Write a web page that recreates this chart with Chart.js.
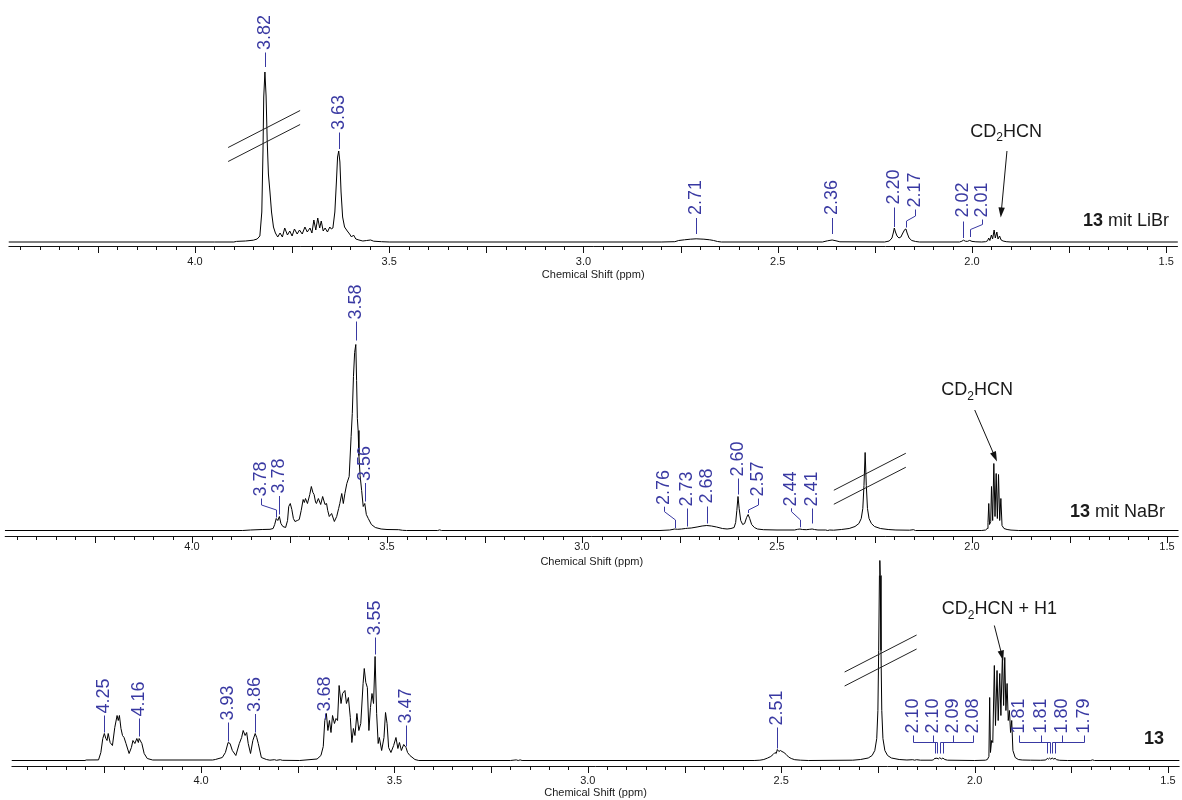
<!DOCTYPE html>
<html>
<head>
<meta charset="utf-8">
<title>1H NMR – 13 mit LiBr / NaBr</title>
<script src="https://cdn.jsdelivr.net/npm/chart.js@4.4.1/dist/chart.umd.min.js"></script>
<style>
  html, body { margin: 0; padding: 0; background: #ffffff; }
  #stack { position: relative; width: 1182px; height: 800px; overflow: hidden; background: #ffffff; }
  #stack canvas { position: absolute; left: 0; top: 0; width: 1182px; height: 800px; }
</style>
</head>
<body>
<div id="stack">
  <canvas id="panelLiBr" width="1182" height="800"></canvas>
  <canvas id="panelNaBr" width="1182" height="800"></canvas>
  <canvas id="panelFree" width="1182" height="800"></canvas>
</div>
<script>
// ---------------------------------------------------------------------------
// Spectra: [chemical shift (ppm), intensity (a.u.)], ordered high to low ppm
// ---------------------------------------------------------------------------
const librSpectrum = [
  [4.48,0],[3.95,0],[3.90,0],[3.893,0.6],[3.87,1],[3.85,1.8],[3.840,3],[3.833,6],[3.828,30],[3.825,90],
  [3.823,145],[3.820,170],[3.817,146],[3.814,100],[3.811,68],[3.807,50],[3.803,30],[3.798,15],[3.793,9],[3.787,5],
  [3.781,9],[3.775,5],[3.769,14],[3.762,7],[3.756,11],[3.750,6],[3.744,13],[3.737,8],[3.731,12],[3.724,8],
  [3.717,15],[3.711,10],[3.704,14],[3.699,9],[3.694,22],[3.689,12],[3.684,24],[3.679,14],[3.675,21],[3.670,11],
  [3.665,14],[3.659,10],[3.653,15],[3.649,13],[3.645,14],[3.640,30],[3.636,60],[3.633,85],[3.630,91],[3.627,80],
  [3.624,50],[3.620,25],[3.615,15],[3.608,11],[3.602,8],[3.597,5],[3.592,7],[3.586,3],[3.578,2],[3.568,1],
  [3.558,1.5],[3.548,2],[3.540,0.8],[3.52,0.3],[3.50,0],[2.80,0],[2.765,0.3],[2.755,1.5],[2.74,2.2],[2.725,2.8],
  [2.71,3.2],[2.70,3],[2.69,2.8],[2.675,2.2],[2.665,1.5],[2.655,0.5],[2.645,0],[2.385,0],[2.372,1.2],[2.36,2],
  [2.35,1.2],[2.34,0.2],[2.225,0],[2.213,1],[2.206,4],[2.202,10],[2.20,14],[2.197,10],[2.193,6],[2.188,4],
  [2.183,5],[2.178,9],[2.173,12.5],[2.17,13],[2.167,9],[2.162,4],[2.155,1.5],[2.145,0.5],[2.135,0],[2.032,0],
  [2.026,0.8],[2.022,1.8],[2.017,0.8],[2.012,0.6],[2.006,1.6],[2.000,0.6],[1.990,0.2],[1.975,0],[1.965,0.3],[1.960,1.2],
  [1.957,4],[1.954,1.5],[1.950,7],[1.947,3],[1.943,12],[1.940,4],[1.936,10],[1.933,3],[1.929,6],[1.925,2],
  [1.920,1],[1.912,0.3],[1.90,0],[1.47,0]
];

const nabrSpectrum = [
  [4.48,0],[3.87,0],[3.85,0.5],[3.82,1],[3.800,1.2],[3.792,2],[3.788,6],[3.784,12],[3.780,10],[3.776,14],
  [3.772,7],[3.767,4],[3.760,3],[3.755,10],[3.752,24],[3.748,27],[3.744,21],[3.740,12],[3.736,9],[3.730,10],
  [3.725,11],[3.720,20],[3.715,31],[3.712,28],[3.709,32],[3.704,27],[3.698,36],[3.694,44],[3.690,38],[3.687,36],
  [3.683,28],[3.681,27],[3.676,32],[3.670,26],[3.665,34],[3.659,26],[3.655,27],[3.652,20],[3.648,14],[3.642,17],
  [3.635,9],[3.629,14],[3.624,22],[3.621,27],[3.616,37],[3.612,27],[3.608,37],[3.603,47],[3.597,54],[3.592,94],
  [3.589,117],[3.586,154],[3.583,178],[3.580,186],[3.578,150],[3.576,112],[3.574,100],[3.572,75],[3.569,55],[3.565,40],
  [3.561,24],[3.557,27],[3.553,16],[3.548,12],[3.540,6],[3.530,3],[3.515,1.5],[3.50,1],[3.47,0.8],[3.46,0.2],
  [3.45,0],[3.37,0],[3.365,0.6],[3.36,0],[2.80,0],[2.775,0.5],[2.762,1.5],[2.755,1.2],[2.745,1.5],[2.735,2],
  [2.73,2.2],[2.72,2.5],[2.705,3.5],[2.692,4.5],[2.68,5],[2.668,4.5],[2.655,3.5],[2.64,2],[2.628,1.5],[2.618,2],
  [2.61,3],[2.606,8],[2.603,20],[2.60,34],[2.597,22],[2.593,10],[2.588,6],[2.583,7],[2.578,13],[2.574,16],
  [2.57,12],[2.565,6],[2.558,3],[2.55,1.5],[2.535,0.8],[2.50,0.5],[2.455,0.5],[2.447,1.2],[2.441,1.5],[2.435,1],
  [2.425,0.8],[2.416,1.2],[2.41,1.5],[2.404,1],[2.395,0.5],[2.375,0.5],[2.37,0],[2.365,0.5],[2.355,0.3],[2.335,1],
  [2.315,2],[2.30,4],[2.29,7],[2.284,12],[2.28,22],[2.277,45],[2.274,78],[2.271,45],[2.268,22],[2.264,12],
  [2.258,7],[2.25,4],[2.235,2],[2.215,1],[2.195,0.5],[2.16,0.3],[2.15,0.8],[2.145,0],[2.10,0],[1.975,0],
  [1.965,0.5],[1.961,2],[1.959,8],[1.957,27],[1.955,6],[1.952,9],[1.95,44],[1.947,10],[1.944,67],[1.941,14],
  [1.938,57],[1.935,12],[1.932,56],[1.929,10],[1.926,32],[1.923,5],[1.918,2],[1.91,1],[1.90,0.4],[1.88,0],
  [1.47,0]
];

const freeSpectrum = [
  [4.49,0],[4.30,0],[4.297,0.5],[4.265,0.6],[4.259,8],[4.254,22],[4.25,27],[4.246,22],[4.243,20],[4.24,27],
  [4.235,18],[4.229,15],[4.223,33],[4.217,45],[4.214,40],[4.211,45],[4.207,32],[4.203,25],[4.199,23],[4.194,17],
  [4.186,7],[4.18,13],[4.176,20],[4.171,17],[4.166,22],[4.162,18],[4.16,22],[4.153,17],[4.147,7],[4.139,2],
  [4.125,0.5],[3.97,0.5],[3.963,1],[3.945,3],[3.937,8],[3.93,18],[3.925,17],[3.919,10],[3.91,5],[3.901,17],
  [3.895,23],[3.891,30],[3.886,25],[3.882,28],[3.878,17],[3.872,7],[3.866,20],[3.86,27],[3.856,23],[3.852,17],
  [3.844,3],[3.831,1],[3.822,0.3],[3.81,0.8],[3.805,0.2],[3.795,0.8],[3.79,0.2],[3.745,0],[3.70,1.5],[3.69,5],
  [3.684,14],[3.68,40],[3.676,47],[3.672,30],[3.668,40],[3.664,28],[3.66,45],[3.655,37],[3.651,42],[3.647,40],
  [3.643,75],[3.638,57],[3.634,67],[3.628,70],[3.624,57],[3.619,63],[3.614,43],[3.61,18],[3.606,32],[3.602,25],
  [3.597,47],[3.592,30],[3.587,37],[3.581,77],[3.578,92],[3.574,78],[3.57,73],[3.566,30],[3.562,53],[3.558,67],
  [3.554,57],[3.55,104],[3.546,47],[3.542,17],[3.539,23],[3.533,10],[3.527,23],[3.523,48],[3.519,37],[3.515,13],
  [3.509,8],[3.502,15],[3.496,23],[3.491,12],[3.487,18],[3.482,10],[3.476,16],[3.47,13],[3.466,8],[3.46,5],
  [3.447,1],[3.437,0],[3.20,0],[3.185,0.6],[3.18,0],[3.175,0.6],[3.17,0],[2.57,0],[2.555,0.3],[2.545,1],
  [2.535,2.5],[2.527,4],[2.521,6],[2.516,8],[2.513,7],[2.51,11],[2.506,9],[2.502,10],[2.498,9],[2.493,8],
  [2.487,6],[2.481,3.5],[2.474,2],[2.465,0.8],[2.45,0.3],[2.43,0],[2.315,0.3],[2.295,1],[2.275,2.5],[2.265,5],
  [2.258,10],[2.253,22],[2.25,50],[2.248,110],[2.246,185],[2.245,200],[2.244,185],[2.242,110],[2.24,50],[2.237,22],
  [2.232,10],[2.225,5],[2.215,2.5],[2.195,1],[2.175,0.5],[2.16,0.8],[2.155,0.3],[2.15,0.8],[2.14,0.3],[2.11,0.3],
  [2.106,0.8],[2.102,2.5],[2.1,1.8],[2.098,2.6],[2.094,1.5],[2.09,2.8],[2.086,1.5],[2.082,2.4],[2.077,1],[2.07,0.3],
  [2.00,0],[1.972,0.3],[1.967,1],[1.963,4],[1.961,63],[1.959,8],[1.956,20],[1.953,18],[1.949,95],[1.946,35],
  [1.942,90],[1.939,40],[1.935,87],[1.932,45],[1.928,107],[1.925,55],[1.922,103],[1.919,50],[1.916,77],[1.913,40],
  [1.91,50],[1.907,28],[1.904,40],[1.901,10],[1.895,3],[1.887,1],[1.877,0.5],[1.855,0.3],[1.83,0.2],[1.816,0.5],
  [1.812,2.2],[1.809,1.4],[1.806,2.4],[1.803,1.3],[1.799,2.6],[1.796,1.3],[1.792,2.2],[1.788,0.8],[1.78,0.2],[1.76,0],
  [1.70,0],[1.695,0.6],[1.69,0],[1.47,0]
];

// Picked peaks (ppm); the printed label is the value rounded to two decimals
const librPeaks = [3.82, 3.63, 2.71, 2.36, 2.20, 2.17, 2.022, 2.006];
const nabrPeaks = [3.784, 3.776, 3.58, 3.557, 2.762, 2.73, 2.68, 2.60, 2.574, 2.441, 2.41];
const freePeaks = [4.25, 4.16, 3.93, 3.86, 3.68, 3.55, 3.47, 2.51, 2.102, 2.098, 2.090, 2.082, 1.812, 1.806, 1.799, 1.792];

// Axis labels (ppm)
const axisLabels = [4.0, 3.5, 3.0, 2.5, 2.0, 1.5];

// 0.05 ppm tick grid inside a shift window
function tickGrid(lo, hi) {
  const out = [];
  for (let k = Math.ceil(lo * 20 - 1e-9); k <= Math.floor(hi * 20 + 1e-9); k++) out.push(k / 20);
  return out;
}

// ---------------------------------------------------------------------------
// Styling
// ---------------------------------------------------------------------------
const FONT = '"Liberation Sans", Arial, Helvetica, sans-serif';
const INK = '#111111';
const LABEL_BLUE = '#3939a2';

// Label leader geometry (heights in intensity units): lo = near the peak,
// k1/k2 = elbow at peak / text side, hi = end of leader, top = start of text
const straight = (lo, hi, top) => ({ lo, k1: lo, k2: lo, hi, top });
const bent = (at, lo, k1, k2, hi, top) => ({ at, lo, k1, k2, hi, top });
const bracket = (at) => ({ at, lo: 7, k1: 18, k2: 18, hi: 25, top: 27 });

const librLayout = [
  straight(175, 189.5, 192), straight(93, 109.5, 112), straight(8, 24, 27), straight(8, 24, 27),
  straight(15, 34.5, 37.5), bent(2.146, 14.5, 21, 26, 32.5, 34.5), straight(4, 20.5, 24.5),
  bent(1.974, 5, 12.5, 17.5, 22.5, 24.5)
];
const nabrLayout = [
  bent(3.822, 13, 20.5, 25.5, 32, 34), straight(16, 34.5, 37), straight(190, 209, 211), straight(29, 47.5, 49.5),
  bent(2.789, 2.5, 10.5, 18.8, 23.8, 25.5), straight(4, 22, 24), straight(7, 24, 27), straight(36, 52, 54),
  bent(2.548, 17.5, 20.5, 25.5, 32, 34), bent(2.465, 3.2, 10.5, 18.8, 22.2, 24), straight(7, 22, 24)
];
const freeLayout = [
  straight(28, 45, 47), straight(24, 42, 44), straight(19, 38, 40), straight(28, 46.5, 48.5),
  straight(41, 47, 49), straight(106, 123, 125), straight(14, 35, 37), straight(12, 33, 35),
  bracket(2.158), bracket(2.107), bracket(2.055), bracket(2.003),
  bracket(1.885), bracket(1.829), bracket(1.773), bracket(1.716)
];

function richRuns(base, sub, tail) {
  return [{ text: base }, { text: sub, sub: true }, { text: tail }];
}

const panels = [
  {
    canvas: 'panelLiBr', spectrum: librSpectrum, peaks: librPeaks, layout: librLayout,
    frame: { shiftMin: 1.47, shiftMax: 4.48, padLeft: 8.5, padRight: 4.1,
             top: 5, axis: 246, base: 242, bottom: 284, tickPad: 9.4, titlePad: 2.4 },
    notes: [
      { runs: richRuns('CD', '2', 'HCN'), at: [1.912, 110], align: 'center' },
      { runs: [{ text: '13', bold: true }, { text: ' mit LiBr' }], at: [1.493, 20.5], align: 'right' }
    ],
    arrows: [{ from: [1.910, 91], to: [1.926, 24.5] }],
    breaks: [{ shift: 3.822, level: 106 }]
  },
  {
    canvas: 'panelNaBr', spectrum: nabrSpectrum, peaks: nabrPeaks, layout: nabrLayout,
    frame: { shiftMin: 1.47, shiftMax: 4.48, padLeft: 4.8, padRight: 3.3,
             top: 300, axis: 535.5, base: 530.5, bottom: 570, tickPad: 5, titlePad: 1.4 },
    notes: [
      { runs: richRuns('CD', '2', 'HCN'), at: [1.987, 140], align: 'center' },
      { runs: [{ text: '13', bold: true }, { text: ' mit NaBr' }], at: [1.505, 18], align: 'right' }
    ],
    arrows: [{ from: [1.993, 120.5], to: [1.936, 69] }],
    breaks: [{ shift: 2.262, level: 51.75 }]
  },
  {
    canvas: 'panelFree', spectrum: freeSpectrum, peaks: freePeaks, layout: freeLayout,
    frame: { shiftMin: 1.47, shiftMax: 4.49, padLeft: 11.5, padRight: 2.4,
             top: 552, axis: 765.5, base: 760.5, bottom: 800, tickPad: 8.4, titlePad: 0.4 },
    notes: [
      { runs: richRuns('CD', '2', 'HCN + H1'), at: [1.936, 151], align: 'center' },
      { runs: [{ text: '13', bold: true }], at: [1.51, 21], align: 'right' }
    ],
    arrows: [{ from: [1.949, 135], to: [1.926, 100] }],
    breaks: [{ shift: 2.243, level: 100 }]
  }
];

// ---------------------------------------------------------------------------
// Drawing helpers
// ---------------------------------------------------------------------------
function runFont(r) {
  const size = r.sub ? 12 : 18;
  return `${r.bold ? 'bold ' : ''}${size}px ${FONT}`;
}

function drawRuns(ctx, runs, x, y, align) {
  const widths = runs.map(r => { ctx.font = runFont(r); return ctx.measureText(r.text).width; });
  const total = widths.reduce((a, b) => a + b, 0);
  let cx = align === 'right' ? x - total : align === 'center' ? x - total / 2 : x;
  ctx.textAlign = 'left';
  ctx.textBaseline = 'middle';
  runs.forEach((r, i) => {
    ctx.font = runFont(r);
    ctx.fillText(r.text, cx, y + (r.sub ? 6 : 0));
    cx += widths[i];
  });
}

function panelDecor(spec) {
  return {
    id: 'panelDecor',
    afterDraw(chart) {
      const { ctx, chartArea } = chart;
      const xs = chart.scales.x, ys = chart.scales.y;
      const X = v => xs.getPixelForValue(v);
      const Y = v => ys.getPixelForValue(v);
      const crisp = v => Math.round(v) + 0.5;
      ctx.save();

      // axis rule with 0.05 ppm minor and 0.25 ppm major tick marks
      const yAxis = Math.round(chartArea.bottom) + 0.5;
      ctx.strokeStyle = INK;
      ctx.lineWidth = 1;
      ctx.beginPath();
      ctx.moveTo(chartArea.left, yAxis);
      ctx.lineTo(chartArea.right, yAxis);
      xs.ticks.forEach(t => {
        const major = Math.abs(t.value * 4 - Math.round(t.value * 4)) < 1e-6;
        const px = crisp(X(t.value));
        ctx.moveTo(px, yAxis);
        ctx.lineTo(px, yAxis + (major ? 6.5 : 3.5));
      });
      ctx.stroke();

      // axis-break marks on truncated peaks
      ctx.strokeStyle = '#222';
      spec.breaks.forEach(b => {
        const cx = X(b.shift), cy = Y(b.level);
        [-7, 7].forEach(off => {
          ctx.beginPath();
          ctx.moveTo(cx - 36, cy + off + 18.5);
          ctx.lineTo(cx + 36, cy + off - 18.5);
          ctx.stroke();
        });
      });

      // peak labels with leaders
      ctx.strokeStyle = LABEL_BLUE;
      ctx.fillStyle = LABEL_BLUE;
      ctx.font = `18px ${FONT}`;
      spec.peaks.forEach((p, i) => {
        const L = spec.layout[i];
        const at = L.at === undefined ? p : L.at;
        const xp = crisp(X(p)), xa = crisp(X(at));
        ctx.beginPath();
        ctx.moveTo(xp, Y(L.lo));
        ctx.lineTo(xp, Y(L.k1));
        ctx.lineTo(xa, Y(L.k2));
        ctx.lineTo(xa, Y(L.hi));
        ctx.stroke();
        ctx.save();
        ctx.translate(xa, Y(L.top));
        ctx.rotate(-Math.PI / 2);
        ctx.textAlign = 'left';
        ctx.textBaseline = 'middle';
        ctx.fillText(p.toFixed(2), 0, 0);
        ctx.restore();
      });

      // solvent notes and sample names
      ctx.fillStyle = '#1a1a1a';
      spec.notes.forEach(n => drawRuns(ctx, n.runs, X(n.at[0]), Y(n.at[1]), n.align));

      // arrows
      ctx.strokeStyle = '#111';
      ctx.fillStyle = '#111';
      spec.arrows.forEach(a => {
        const x0 = X(a.from[0]), y0 = Y(a.from[1]);
        const x1 = X(a.to[0]), y1 = Y(a.to[1]);
        const ang = Math.atan2(y1 - y0, x1 - x0);
        const head = 10, half = 3.2;
        ctx.beginPath();
        ctx.moveTo(x0, y0);
        ctx.lineTo(x1 - Math.cos(ang) * head * 0.8, y1 - Math.sin(ang) * head * 0.8);
        ctx.stroke();
        ctx.beginPath();
        ctx.moveTo(x1, y1);
        ctx.lineTo(x1 - Math.cos(ang) * head - Math.sin(ang) * half, y1 - Math.sin(ang) * head + Math.cos(ang) * half);
        ctx.lineTo(x1 - Math.cos(ang) * head + Math.sin(ang) * half, y1 - Math.sin(ang) * head - Math.cos(ang) * half);
        ctx.closePath();
        ctx.fill();
      });
      ctx.restore();
    }
  };
}

function buildPanel(spec) {
  const f = spec.frame;
  const ticks = tickGrid(f.shiftMin, f.shiftMax);
  const points = spec.spectrum.map(([x, y]) => ({ x, y }));
  return new Chart(document.getElementById(spec.canvas), {
    type: 'line',
    data: {
      datasets: [{
        data: points,
        borderColor: '#000000',
        borderWidth: 1,
        pointRadius: 0,
        fill: false,
        tension: 0
      }]
    },
    options: {
      responsive: false,
      animation: false,
      events: [],
      layout: { padding: { left: f.padLeft, right: f.padRight, top: f.top, bottom: 800 - f.bottom } },
      plugins: { legend: { display: false }, tooltip: { enabled: false } },
      scales: {
        x: {
          type: 'linear',
          reverse: true,
          bounds: 'data',
          min: f.shiftMin,
          max: f.shiftMax,
          afterBuildTicks: axis => { axis.ticks = ticks.map(v => ({ value: v })); },
          afterFit: axis => { axis.height = f.bottom - f.axis; },
          grid: { display: false, drawTicks: false },
          border: { display: false },
          ticks: {
            autoSkip: false,
            maxRotation: 0,
            minRotation: 0,
            padding: f.tickPad,
            color: '#1a1a1a',
            font: { family: FONT, size: 11 },
            callback: v => {
              const lbl = axisLabels.find(a => Math.abs(a - v) < 1e-6);
              return lbl === undefined ? '' : lbl.toFixed(1);
            }
          },
          title: {
            display: true,
            text: 'Chemical Shift (ppm)',
            color: '#1a1a1a',
            font: { family: FONT, size: 11 },
            padding: { top: 0, bottom: f.titlePad }
          }
        },
        y: {
          display: false,
          min: -(f.axis - f.base),
          max: f.base - f.top
        }
      }
    },
    plugins: [panelDecor(spec)]
  });
}

panels.forEach(buildPanel);
</script>
</body>
</html>
